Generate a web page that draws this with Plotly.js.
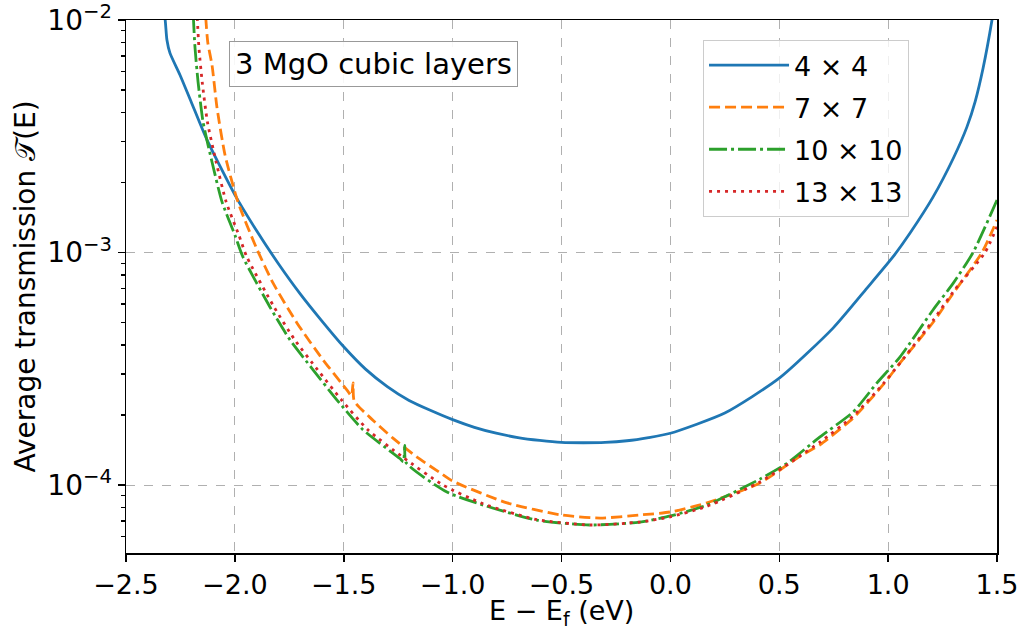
<!DOCTYPE html>
<html>
<head>
<meta charset="utf-8">
<script src="https://cdn.plot.ly/plotly-3.0.1.min.js"></script>
<style>
  html, body { margin: 0; padding: 0; background: #fff; }
  #chart { width: 1031px; height: 630px; }
</style>
</head>
<body>
<div id="chart"></div>
<script>
// ---- Data ----
const seriesNames = ["4 × 4", "7 × 7", "10 × 10", "13 × 13"];

const x4 = [-2.34, -2.32, -2.312, -2.298, -2.252, -2.2, -2.128, -2.0, -1.9, -1.8, -1.7, -1.6, -1.5, -1.4, -1.3, -1.2, -1.1, -1.0, -0.9, -0.8, -0.7, -0.6, -0.5, -0.4, -0.3, -0.2, -0.1, 0.0, 0.25, 0.5, 0.747, 0.903, 1.022, 1.1, 1.206, 1.3, 1.362, 1.4, 1.436, 1.477, 1.495];
const t4 = [1.4e-2, 1.0e-2, 8.2e-3, 7.2e-3, 5.8e-3, 4.43e-3, 3.05e-3, 1.77e-3, 1.24e-3, 8.95e-4, 6.64e-4, 5.07e-4, 3.93e-4, 3.15e-4, 2.65e-4, 2.31e-4, 2.09e-4, 1.91e-4, 1.77e-4, 1.67e-4, 1.60e-4, 1.555e-4, 1.525e-4, 1.52e-4, 1.525e-4, 1.55e-4, 1.60e-4, 1.67e-4, 2.04e-4, 2.88e-4, 4.73e-4, 7.03e-4, 9.57e-4, 1.21e-3, 1.73e-3, 2.55e-3, 3.47e-3, 4.47e-3, 6.2e-3, 1.0e-2, 1.3e-2];

const x7 = [-2.14, -2.133, -2.124, -2.105, -2.082, -2.045, -1.986, -1.9, -1.825, -1.715, -1.595, -1.485, -1.465, -1.457, -1.452, -1.366, -1.274, -1.165, -1.058, -1.0, -0.75, -0.5, -0.323, -0.14, 0.0, 0.168, 0.411, 0.595, 0.687, 0.839, 0.977, 1.055, 1.206, 1.3, 1.431, 1.5];
const t7 = [1.4e-2, 1.0e-2, 7.96e-3, 6.4e-3, 4.19e-3, 2.62e-3, 1.65e-3, 1.04e-3, 7.4e-4, 4.98e-4, 3.45e-4, 2.56e-4, 2.42e-4, 2.75e-4, 2.3e-4, 1.9e-4, 1.59e-4, 1.32e-4, 1.13e-4, 1.04e-4, 8.38e-5, 7.43e-5, 7.21e-5, 7.43e-5, 7.66e-5, 8.38e-5, 1.02e-4, 1.33e-4, 1.49e-4, 1.94e-4, 2.7e-4, 3.35e-4, 5.0e-4, 6.7e-4, 1.0e-3, 1.38e-3];

const x10 = [-2.195, -2.19, -2.183, -2.169, -2.146, -2.105, -2.059, -2.0, -1.963, -1.839, -1.747, -1.641, -1.531, -1.412, -1.242, -1.226, -1.22, -1.214, -1.026, -0.86, -0.613, -0.369, -0.14, 0.0, 0.168, 0.411, 0.535, 0.687, 0.839, 0.949, 1.055, 1.206, 1.3, 1.39, 1.5];
const t10 = [1.4e-2, 1.0e-2, 7.58e-3, 5.41e-3, 3.64e-3, 2.45e-3, 1.65e-3, 1.19e-3, 9.57e-4, 5.83e-4, 4.21e-4, 3.13e-4, 2.32e-4, 1.73e-4, 1.30e-4, 1.26e-4, 1.48e-4, 1.25e-4, 9.33e-5, 8.2e-5, 7.06e-5, 6.73e-5, 6.93e-5, 7.36e-5, 8.2e-5, 1.06e-4, 1.24e-4, 1.61e-4, 2.06e-4, 2.75e-4, 3.56e-4, 5.66e-4, 7.4e-4, 1.0e-3, 1.68e-3];

const x13 = [-2.178, -2.172, -2.165, -2.15, -2.126, -2.086, -2.04, -1.982, -1.945, -1.82, -1.725, -1.62, -1.51, -1.39, -1.23, -1.044, -0.86, -0.613, -0.369, -0.14, 0.0, 0.168, 0.411, 0.687, 0.839, 0.977, 1.206, 1.3, 1.445, 1.5];
const t13 = [1.4e-2, 1.0e-2, 7.58e-3, 5.41e-3, 3.64e-3, 2.45e-3, 1.65e-3, 1.19e-3, 9.57e-4, 5.83e-4, 4.21e-4, 3.13e-4, 2.32e-4, 1.73e-4, 1.32e-4, 1.0e-4, 8.3e-5, 7.1e-5, 6.73e-5, 6.93e-5, 7.3e-5, 8.1e-5, 1.03e-4, 1.53e-4, 1.98e-4, 2.72e-4, 5.1e-4, 6.8e-4, 1.0e-3, 1.29e-3];

const xTicks = [-2.5, -2.0, -1.5, -1.0, -0.5, 0.0, 0.5, 1.0, 1.5];
const yTicks = [1e-4, 1e-3, 1e-2];
const yTickText = ["10<sup>−4</sup>", "10<sup>−3</sup>", "10<sup>−2</sup>"];
const yMinor = [6e-5, 7e-5, 8e-5, 9e-5, 2e-4, 3e-4, 4e-4, 5e-4, 6e-4, 7e-4, 8e-4, 9e-4, 2e-3, 3e-3, 4e-3, 5e-3, 6e-3, 7e-3, 8e-3, 9e-3];
const xTitle = "E − E<sub>f</sub> (eV)";
const yTitle = "Average transmission 𝒯(E)";
const boxText = "3 MgO cubic layers";

// ---- Styles ----
const colors = ["#1f77b4", "#ff7f0e", "#2ca02c", "#d62728"];
const dashes = ["solid", "11px,5px", "18px,4px,3px,4px", "3px,5px"];
const xs = [x4, x7, x10, x13];
const ts = [t4, t7, t10, t13];

const traces = xs.map((xv, i) => ({
  x: xv, y: ts[i], type: "scatter", mode: "lines",
  name: seriesNames[i], legendgroup: "g" + i,
  line: { color: colors[i], width: 2.8, dash: dashes[i], shape: "spline", smoothing: 0.6 },
  hoverinfo: "skip"
}));

const FONT = "DejaVu Sans, Liberation Sans, sans-serif";

const layout = {
  width: 1031, height: 630,
  margin: { l: 126, r: 34, t: 20, b: 77 },
  paper_bgcolor: "#ffffff", plot_bgcolor: "#ffffff",
  font: { family: FONT, size: 28, color: "#000" },
  showlegend: true,
  legend: {
    x: 0.6625, y: 0.9625, xanchor: "left", yanchor: "top",
    bgcolor: "rgba(255,255,255,0.8)", bordercolor: "#cccccc", borderwidth: 1,
    font: { family: FONT, size: 27, color: "#000" },
    tracegroupgap: 4, itemwidth: 80
  },
  xaxis: {
    range: [-2.5, 1.5], tickmode: "array", tickvals: xTicks, tickformat: ".1f",
    ticks: "outside", ticklen: 7, tickwidth: 1.5, tickcolor: "#000",
    showline: true, linecolor: "#000", linewidth: 1.5, mirror: true,
    showgrid: true, gridcolor: "#b0b0b0", griddash: "dash", gridwidth: 1,
    zeroline: false, tickfont: { family: FONT, size: 27 }
  },
  yaxis: {
    type: "log", range: [Math.log10(5.1e-5), -2],
    tickmode: "array", tickvals: yTicks, ticktext: yTickText,
    ticks: "outside", ticklen: 7, tickwidth: 1.5, tickcolor: "#000",
    minor: { tickmode: "array", tickvals: yMinor, ticks: "outside", ticklen: 4, tickwidth: 1.2, tickcolor: "#000", showgrid: false },
    showline: true, linecolor: "#000", linewidth: 1.5, mirror: true,
    showgrid: true, gridcolor: "#b0b0b0", griddash: "dash", gridwidth: 1,
    zeroline: false, tickfont: { family: FONT, size: 28 },
    title: { text: yTitle, font: { family: FONT, size: 28 }, standoff: 3 }
  },
  annotations: [{
    xref: "paper", yref: "paper", x: 0.2836, y: 0.9174, xanchor: "center", yanchor: "middle",
    text: boxText, showarrow: false,
    font: { family: FONT, size: 29, color: "#000" },
    bgcolor: "rgba(255,255,255,0.9)", bordercolor: "#999999", borderwidth: 1, borderpad: 5
  }, {
    xref: "paper", yref: "paper", x: 0.5, y: -0.111, xanchor: "center", yanchor: "middle",
    text: xTitle, showarrow: false,
    font: { family: FONT, size: 27, color: "#000" }
  }]
};

function stretchLegendLines() {
  const legend = document.querySelector("#chart g.legend");
  if (!legend) return;
  legend.querySelectorAll("path").forEach(p => {
    const d = p.getAttribute("d") || "";
    if (/^M5,0h30$/.test(d.replace(/\s/g, ""))) p.setAttribute("d", "M5,0h61");
  });
}

Plotly.newPlot("chart", traces, layout, { displayModeBar: false, staticPlot: true }).then(() => {
  stretchLegendLines();
  setTimeout(stretchLegendLines, 50);
});
</script>
</body>
</html>
